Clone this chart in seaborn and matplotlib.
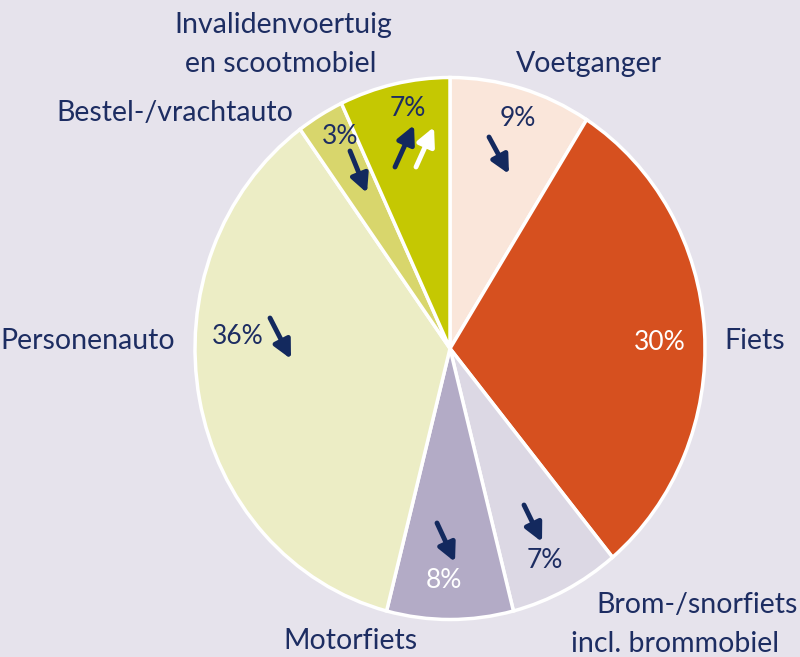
import matplotlib
matplotlib.use("Agg")
import matplotlib.pyplot as plt
import seaborn as sns

categories = ["Voetganger", "Fiets", "Brom-/snorfiets\nincl. brommobiel", "Motorfiets",
              "Personenauto", "Bestel-/vrachtauto", "Invalidenvoertuig\nen scootmobiel"]
shares = [9, 30, 7, 8, 36, 3, 7]
pct_labels = ["9%", "30%", "7%", "8%", "36%", "3%", "7%"]
colors = ["#fae6da", "#d6501f", "#dcd8e4", "#b3abc6", "#ecedc5", "#d8d66c", "#c5c802"]
pct_colors = ["#1d2d62", "white", "#1d2d62", "white", "#1d2d62", "#1d2d62", "#1d2d62"]

BG = "#e6e3ec"
NAVY = "#13295e"

sns.set_theme(style="white")
plt.rcParams['font.family'] = ['Lato', 'DejaVu Sans']

fig = plt.figure(figsize=(8, 6.57), dpi=100, facecolor=BG)
CX, CY, RX, RY = 450, 348.5, 255, 271
ax = fig.add_axes([(CX - RX) / 800, (657 - CY - RY) / 657, 2 * RX / 800, 2 * RY / 657])
ax.set_facecolor(BG)
ax.axis("off")

def d(px, py):
    return ((px - CX) / RX, (CY - py) / RY)

ax.pie(shares, colors=colors, startangle=90, counterclock=False, radius=1,
       wedgeprops=dict(edgecolor="white", linewidth=2.5))
ax.set_aspect("auto")
ax.set_xlim(-1, 1)
ax.set_ylim(-1, 1)

# category labels: per line (center x, baseline y) in pixels
line_pos = [[(589, 72)], [(755, 349)], [(697, 613), (675, 652)], [(350, 649)],
            [(88, 349)], [(175, 121)], [(283, 33), (281, 72)]]
for txt, poss in zip(categories, line_pos):
    for line, (px, py) in zip(txt.split("\n"), poss):
        x, y = d(px, py)
        ax.text(x, y, line, ha="center", va="baseline", fontsize=20.5,
                color="#1d2d62", clip_on=False)

pct_pos = [(518, 118), (660, 342), (545, 561), (444, 580), (238, 336), (340, 136), (408, 108)]
for txt, (px, py), c in zip(pct_labels, pct_pos, pct_colors):
    x, y = d(px, py)
    ax.text(x, y, txt, ha="center", va="center", fontsize=19, color=c)

arrows = [((489, 137), (509, 174), NAVY), ((524, 505), (542, 542), NAVY),
          ((437, 523), (455, 562), NAVY), ((270, 318), (291, 359), NAVY),
          ((350, 151), (367, 193), NAVY), ((395, 167), (414, 125), NAVY),
          ((416, 167), (434, 127), "white")]
for tail, head, c in arrows:
    ax.annotate("", xy=d(*head), xytext=d(*tail),
                arrowprops=dict(arrowstyle="-|>,head_length=0.9,head_width=0.45",
                                color=c, lw=3.5, shrinkA=0, shrinkB=0))

fig.savefig("out.png", dpi=100, facecolor=BG)
